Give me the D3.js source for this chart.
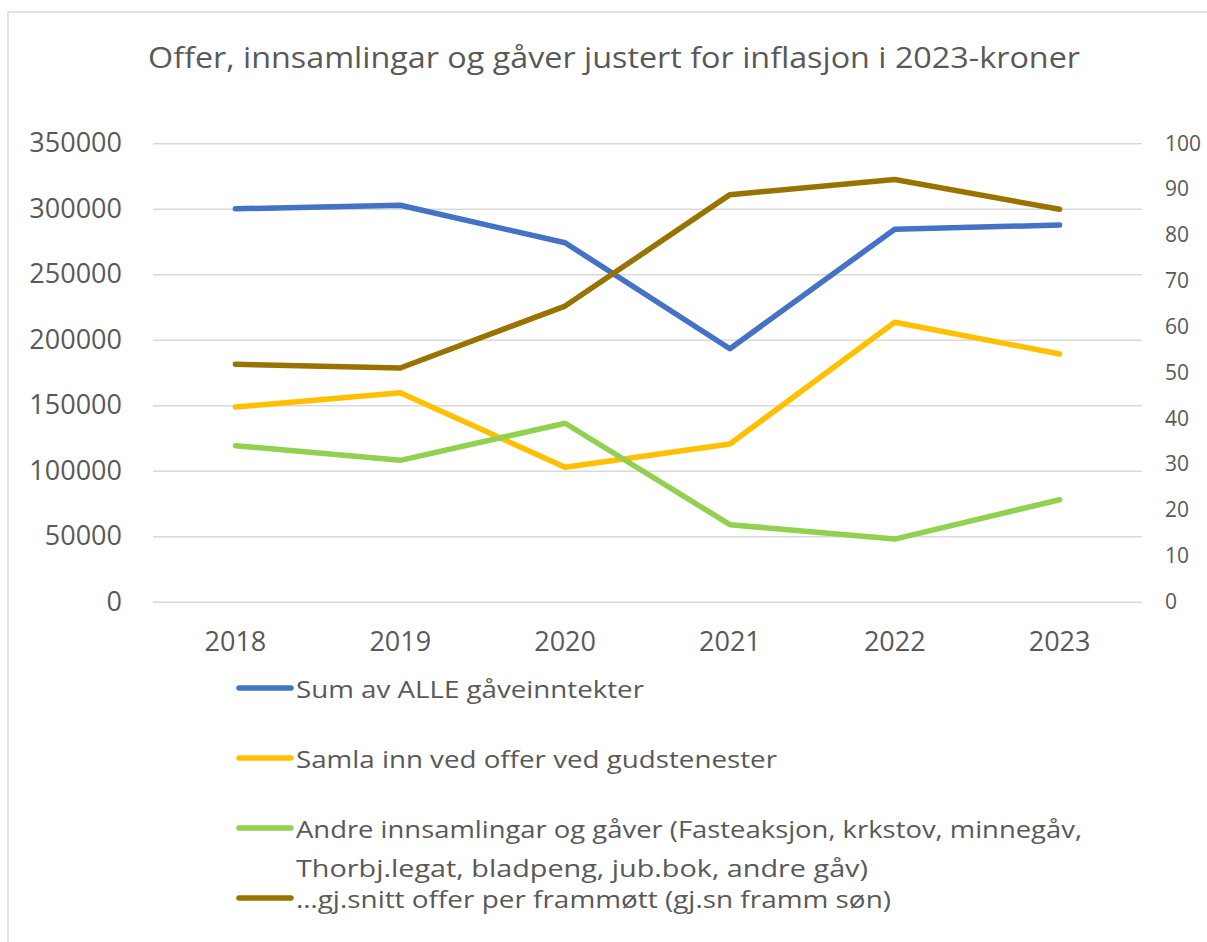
<!DOCTYPE html>
<html>
<head>
<meta charset="utf-8">
<script src="https://cdn.jsdelivr.net/npm/d3@7"></script>
<style>
  html, body { margin: 0; padding: 0; background: #fff; }
  svg { display: block; font-family: "Open Sans", "Noto Sans", sans-serif; }
</style>
</head>
<body>
<svg id="chart" width="1207" height="942"></svg>
<script>
// ── data ───────────────────────────────────────────────────────────────────
const years = ['2018', '2019', '2020', '2021', '2022', '2023'];
const sumAlle   = [300000, 302700, 274100, 193200, 284400, 287600];
const offerGud  = [148700, 159600, 102700, 120500, 213400, 189200];
const andreGaver = [119200, 108000, 136300, 58900, 47900, 77900];
const snittOffer = [51.8, 51.0, 64.5, 88.8, 92.1, 85.6];   // right axis

const leftTicks  = [0, 50000, 100000, 150000, 200000, 250000, 300000, 350000];
const rightTicks = [0, 10, 20, 30, 40, 50, 60, 70, 80, 90, 100];

const title = 'Offer, innsamlingar og gåver justert for inflasjon i 2023-kroner';
const seriesNames = [
  ['Sum av ALLE gåveinntekter'],
  ['Samla inn ved offer ved gudstenester'],
  ['Andre innsamlingar og gåver (Fasteaksjon, krkstov, minnegåv,', 'Thorbj.legat, bladpeng, jub.bok, andre gåv)'],
  ['…gj.snitt offer per frammøtt (gj.sn framm søn)'],
];
const seriesColors = ['#4472C4', '#FFC000', '#92D050', '#997300'];

// ── layout ─────────────────────────────────────────────────────────────────
const svg = d3.select('#chart');
const TXT = '#595959', GRID = '#d9d9d9';
const plot = { left: 153, right: 1142, top: 143.3, bottom: 601.8 };

// frame (only top and left edges visible in the picture)
svg.append('line').attr('x1', 8).attr('x2', 1207).attr('y1', 12).attr('y2', 12)
  .attr('stroke', GRID).attr('stroke-width', 1.5);
svg.append('line').attr('x1', 8).attr('x2', 8).attr('y1', 12).attr('y2', 942)
  .attr('stroke', GRID).attr('stroke-width', 1.5);

// title
svg.append('text').attr('x', 614).attr('y', 68).attr('text-anchor', 'middle')
  .attr('font-size', 29).attr('fill', TXT)
  .attr('textLength', 932).attr('lengthAdjust', 'spacingAndGlyphs')
  .text(title);

// ── scales ─────────────────────────────────────────────────────────────────
const x = d3.scaleBand().domain(years).range([plot.left, plot.right]).padding(0);
const yL = d3.scaleLinear().domain([0, 350000]).range([plot.bottom, plot.top]);
const yR = d3.scaleLinear().domain([0, 100]).range([plot.bottom, plot.top]);
const cx = d => x(d) + x.bandwidth() / 2;

const styleAxis = (g, size) => {
  g.attr('font-family', null).attr('font-size', null);
  g.select('.domain').remove();
  g.selectAll('text').attr('font-size', size).attr('fill', TXT);
};

// grid
svg.append('g').attr('transform', `translate(${plot.left},0)`)
  .call(d3.axisLeft(yL).tickValues(leftTicks).tickSize(-(plot.right - plot.left)).tickFormat(''))
  .call(g => g.select('.domain').remove())
  .call(g => g.selectAll('line').attr('stroke', GRID).attr('stroke-width', 1.5));

// left axis
svg.append('g').attr('transform', `translate(${plot.left},0)`)
  .call(d3.axisLeft(yL).tickValues(leftTicks).tickSize(0).tickPadding(31).tickFormat(d => d))
  .call(g => styleAxis(g, 27));

// right axis
svg.append('g').attr('transform', `translate(${plot.right},0)`)
  .call(d3.axisRight(yR).tickValues(rightTicks).tickSize(0).tickPadding(23))
  .call(g => styleAxis(g, 21));

// x axis
svg.append('g').attr('transform', `translate(0,${plot.bottom})`)
  .call(d3.axisBottom(x).tickSize(0).tickPadding(30))
  .call(g => styleAxis(g, 27));

// ── lines ──────────────────────────────────────────────────────────────────
const series = [
  { vals: sumAlle, y: yL },
  { vals: offerGud, y: yL },
  { vals: andreGaver, y: yL },
  { vals: snittOffer, y: yR },
];
series.forEach((s, i) => {
  const line = d3.line().x((d, j) => cx(years[j])).y(d => s.y(d));
  svg.append('path').datum(s.vals)
    .attr('d', line).attr('fill', 'none')
    .attr('stroke', seriesColors[i]).attr('stroke-width', 5.5)
    .attr('stroke-linecap', 'round').attr('stroke-linejoin', 'round');
});

// ── legend ─────────────────────────────────────────────────────────────────
const legRows = [688, 758, 828, 898];
const lineGap = 39;
const legWidths = [[348], [481], [786, 572], [595]];
const leg = svg.append('g');
seriesNames.forEach((lines, i) => {
  leg.append('line').attr('x1', 239).attr('x2', 291)
    .attr('y1', legRows[i]).attr('y2', legRows[i])
    .attr('stroke', seriesColors[i]).attr('stroke-width', 5.5).attr('stroke-linecap', 'round');
  lines.forEach((t, k) => {
    leg.append('text').attr('x', 296).attr('y', legRows[i] + 10 + k * lineGap)
      .attr('font-size', 24).attr('fill', TXT)
      .attr('textLength', legWidths[i][k]).attr('lengthAdjust', 'spacingAndGlyphs')
      .text(t);
  });
});
</script>
</body>
</html>
